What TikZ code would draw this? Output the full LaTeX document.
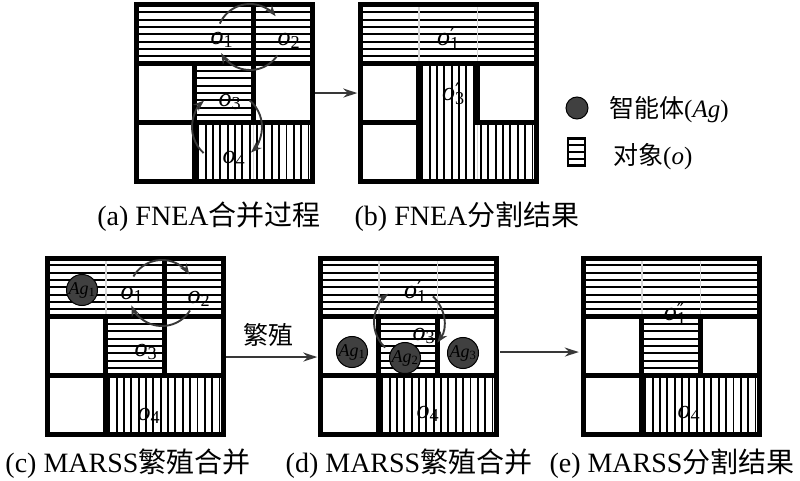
\documentclass[tikz,border=0pt]{standalone}
\usepackage{fontspec}
\setmainfont{Liberation Serif}
\newfontfamily\cjk{Noto Sans CJK SC}
\newfontfamily\primefont{DejaVu Serif}
\usetikzlibrary{arrows.meta,calc}

\tikzset{
  stripe/.style={draw=black,line width=1.9pt},
  gline/.style={draw=black!16,line width=1.6pt},
  innerline/.style={draw=black,line width=4.5pt,line cap=rect},
  outerline/.style={draw=black,line width=5pt},
  cyc/.style={draw=black!78,line width=1.9pt,-{Stealth[length=11pt,width=8pt]}},
  conn/.style={draw=black!78,line width=1.9pt,-{Stealth[length=14pt,width=9pt]}},
  olab/.style={inner sep=0pt,font=\fontsize{26}{26}\selectfont},
  agent/.style={circle,draw=black,line width=1pt,fill=black!75,minimum size=30pt,inner sep=0pt,text=black,font=\fontsize{18}{18}\selectfont},
  panelbox/.style={inner sep=0pt,minimum width=176.1pt,minimum height=176.1pt},
  captext/.style={inner sep=0pt,font=\fontsize{28}{28}\selectfont},
  legtext/.style={inner sep=0pt,anchor=west,font=\fontsize{25}{25}\selectfont}
}

% object label: o with subscript #1 and prime marks #2 stacked above it
\newcommand\objlab[2]{\textit{o}\rlap{\textsubscript{#1}}{\primefont\fontsize{20}{20}\selectfont\raisebox{0.15em}{#2}}}
\newcommand\aglab[1]{\textit{Ag}\textsubscript{#1}}

\newcommand\hstr[4]{\begin{scope}\clip (#1,#2) rectangle (#3,#4);
  \foreach \k in {1,...,24}{\draw[stripe] (#1,{#2+\k*7.34}) -- (#3,{#2+\k*7.34});}\end{scope}}
\newcommand\vstr[4]{\begin{scope}\clip (#1,#2) rectangle (#3,#4);
  \foreach \k in {1,...,24}{\draw[stripe] ({#1+(\k-0.5)*7.34},#2) -- ({#1+(\k-0.5)*7.34},#4);}\end{scope}}

\begin{document}
\begin{tikzpicture}[x=1pt,y=-1pt]
\useasboundingbox (0,0) rectangle (800,481);
\fill[white] (0,0) rectangle (800,481);

% ---------------- panel (a)
\node[panelbox] (pa) at (224.05,93.05) {};
\begin{scope}[shift={(136,5)}]
  \hstr{0}{0}{176.1}{58.7}
  \hstr{58.7}{58.7}{117.4}{117.4}
  \vstr{58.7}{117.4}{176.1}{176.1}
  \draw[gline] (117.4,117.4) -- (117.4,176.1);
  \draw[innerline] (0,58.7) -- (176.1,58.7) (0,117.4) -- (176.1,117.4)
    (117.4,0) -- (117.4,117.4) (58.7,58.7) -- (58.7,176.1);
  \draw[outerline] (0,0) rectangle (176.1,176.1);
  \node[olab] (a1) at (81,35) {\objlab{1}{}};
  \node[olab] (a2) at (148,36) {\objlab{2}{}};
  \node[olab] (a3) at (89,97) {\objlab{3}{}};
  \node[olab] (a4) at (93,154) {\objlab{4}{}};
  \coordinate (ca1) at (114,32);
  \draw[cyc] (ca1) ++(-156:33) arc[start angle=-156,end angle=-39,radius=33];
  \draw[cyc] (ca1) ++(34:33) arc[start angle=34,end angle=151,radius=33];
  \coordinate (ca2) at (91,122);
  \draw[cyc] (ca2) ++(132:35) arc[start angle=132,end angle=229,radius=35];
  \draw[cyc] (ca2) ++(-50:35) arc[start angle=-50,end angle=47,radius=35];
\end{scope}

% ---------------- panel (b)
\node[panelbox] (pb) at (448.05,93.05) {};
\begin{scope}[shift={(360,5)}]
  \hstr{0}{0}{176.1}{58.7}
  \vstr{58.7}{58.7}{117.4}{176.1}
  \vstr{117.4}{117.4}{176.1}{176.1}
  \draw[gline] (58.7,0) -- (58.7,58.7) (117.4,0) -- (117.4,58.7) (117.4,117.4) -- (117.4,176.1);
  \draw[innerline] (0,58.7) -- (176.1,58.7) (58.7,58.7) -- (58.7,176.1)
    (117.4,58.7) -- (117.4,117.4) -- (176.1,117.4) (0,117.4) -- (58.7,117.4);
  \draw[outerline] (0,0) rectangle (176.1,176.1);
  \node[olab] (b1) at (86,34) {\objlab{1}{′}};
  \node[olab] (b3) at (91,89) {\objlab{3}{′}};
\end{scope}

% ---------------- legend
\node[agent,minimum size=22pt] (lg1) at (577,108) {};
\node[legtext] (lt1) at (609,110) {{\cjk 智能体}(\textit{Ag})};
\node[draw=black,line width=2.4pt,minimum width=17pt,minimum height=27pt,inner sep=0pt] (lg2) at (576.5,152) {};
\foreach \f in {0.25,0.5,0.75}{\draw[line width=2pt] ($(lg2.north west)!\f!(lg2.south west)$) -- ($(lg2.north east)!\f!(lg2.south east)$);}
\node[legtext] (lt2) at (613,157) {{\cjk 对象}(\textit{o})};

% ---------------- panel (c)
\node[panelbox] (pc) at (135.05,346.05) {};
\begin{scope}[shift={(47,258)}]
  \hstr{0}{0}{176.1}{58.7}
  \hstr{58.7}{58.7}{117.4}{117.4}
  \vstr{58.7}{117.4}{176.1}{176.1}
  \draw[gline] (58.7,0) -- (58.7,58.7);
  \draw[innerline] (0,58.7) -- (176.1,58.7) (0,117.4) -- (176.1,117.4)
    (117.4,0) -- (117.4,117.4) (58.7,58.7) -- (58.7,176.1);
  \draw[outerline] (0,0) rectangle (176.1,176.1);
  \node[agent] (c0) at (35,32) {\aglab{1}};
  \node[olab] (c1) at (80,37) {\objlab{1}{}};
  \node[olab] (c2) at (147,41) {\objlab{2}{}};
  \node[olab] (c3) at (94,94) {\objlab{3}{}};
  \node[olab] (c4) at (97,158) {\objlab{4}{}};
  \coordinate (cc1) at (115,35);
  \draw[cyc] (cc1) ++(-150:33) arc[start angle=-150,end angle=-34,radius=33];
  \draw[cyc] (cc1) ++(32:33) arc[start angle=32,end angle=158,radius=33];
\end{scope}

% ---------------- panel (d)
\node[panelbox] (pd) at (408.05,346.05) {};
\begin{scope}[shift={(320,258)}]
  \hstr{0}{0}{176.1}{58.7}
  \hstr{58.7}{58.7}{117.4}{117.4}
  \vstr{58.7}{117.4}{176.1}{176.1}
  \draw[gline] (58.7,0) -- (58.7,58.7) (117.4,0) -- (117.4,58.7);
  \draw[innerline] (0,58.7) -- (176.1,58.7) (0,117.4) -- (176.1,117.4)
    (117.4,58.7) -- (117.4,117.4) (58.7,58.7) -- (58.7,176.1);
  \draw[outerline] (0,0) rectangle (176.1,176.1);
  \node[olab] (d1) at (93,34) {\objlab{1}{′}};
  \node[olab] (d3) at (99,78) {\objlab{3}{}};
  \node[olab] (d4) at (103,156) {\objlab{4}{}};
  \node[agent] (g1) at (32,94) {\aglab{1}};
  \node[agent] (g2) at (85,100) {\aglab{2}};
  \node[agent] (g3) at (143,95) {\aglab{3}};
  \coordinate (cd1) at (89,64);
  \draw[cyc] (cd1) ++(133:35) arc[start angle=133,end angle=234,radius=35];
  \draw[cyc] (cd1) ++(-47:35) arc[start angle=-47,end angle=36,radius=35];
\end{scope}

% ---------------- panel (e)
\node[panelbox] (pe) at (671.05,346.05) {};
\begin{scope}[shift={(583,258)}]
  \hstr{0}{0}{176.1}{58.7}
  \hstr{58.7}{58.7}{117.4}{117.4}
  \vstr{58.7}{117.4}{176.1}{176.1}
  \draw[gline] (58.7,0) -- (58.7,58.7) (117.4,0) -- (117.4,58.7);
  \draw[innerline] (0,58.7) -- (176.1,58.7) (0,117.4) -- (176.1,117.4)
    (117.4,58.7) -- (117.4,117.4) (58.7,58.7) -- (58.7,176.1);
  \draw[outerline] (0,0) rectangle (176.1,176.1);
  \node[olab] (e1) at (91,56) {\objlab{1}{″}};
  \node[olab] (e4) at (101,156) {\objlab{4}{}};
\end{scope}

% ---------------- connectors
\draw[conn,shorten >=2.5pt,shorten <=2.5pt] (pa.east) -- (pb.west);
\draw[conn,shorten >=2.5pt,shorten <=2.5pt] ([yshift=-11pt]pc.east) -- ([yshift=-11pt]pd.west);
\node[inner sep=0pt,font=\fontsize{25}{25}\selectfont\cjk] (fz) at (268,335) {繁殖};
\draw[conn,shorten >=4pt,shorten <=4pt] ([yshift=-6pt]pd.east) -- ([yshift=-6pt]pe.west);

% ---------------- captions
\node[captext] (capa) at (209,217) {(a) FNEA{\cjk 合并过程}};
\node[captext] (capb) at (467,217) {(b) FNEA{\cjk 分割结果}};
\node[captext] (capc) at (128,464) {(c) MARSS{\cjk 繁殖合并}};
\node[captext] (capd) at (409,464) {(d) MARSS{\cjk 繁殖合并}};
\node[captext] (cape) at (672,464) {(e) MARSS{\cjk 分割结果}};
\end{tikzpicture}
\end{document}
